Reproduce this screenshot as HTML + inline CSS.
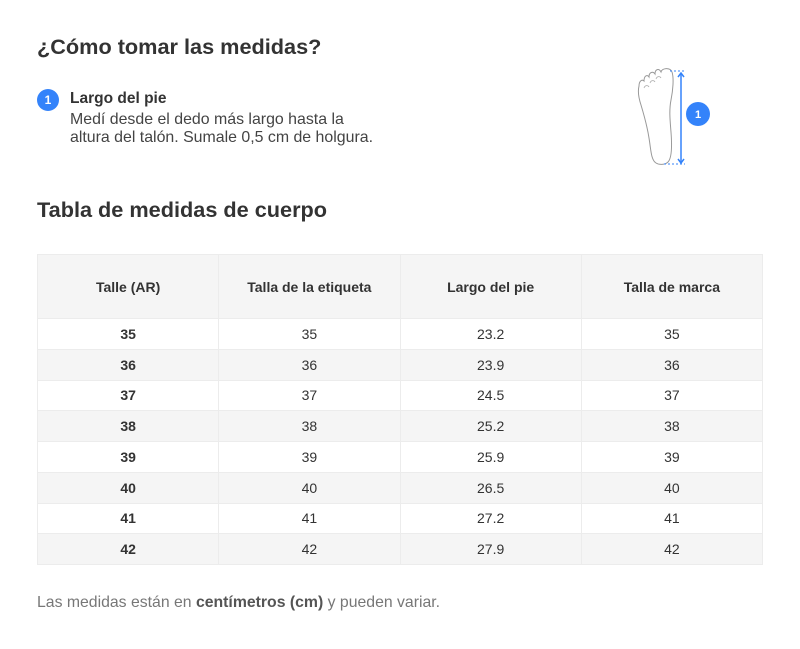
<!DOCTYPE html>
<html><head><meta charset="utf-8"><style>
body{margin:0;width:800px;height:649px;background:#fff;font-family:"Liberation Sans",sans-serif;color:#333;position:relative;overflow:hidden}
.a{position:absolute}
h1{position:absolute;margin:0;left:37px;top:34px;font-size:21.7px;font-weight:bold;color:#333}
h2{position:absolute;margin:0;left:37px;top:197px;font-size:21.7px;font-weight:bold;color:#333}
.badge{position:absolute;width:22px;height:22px;border-radius:50%;background:#3483fa;color:#fff;font-size:12px;font-weight:bold;text-align:center;line-height:22px}
table{position:absolute;left:37px;top:254px;width:726px;border-collapse:collapse;font-size:14px;table-layout:fixed}
td,th{text-align:center;border:1px solid #ececec;padding:0;color:#333}
th{height:63px;background:#f5f5f5;font-weight:bold}
td{height:29.75px}
tr.g td{background:#f5f5f5}
td:first-child{font-weight:bold}
</style></head><body>
<h1>¿Cómo tomar las medidas?</h1>
<div class="badge" style="left:37px;top:89px">1</div>
<div class="a" style="left:70px;top:90px;font-size:15.5px;font-weight:bold">Largo del pie</div>
<div class="a" style="left:70px;top:111px;font-size:15.9px;line-height:18px;color:#444">Medí desde el dedo más largo hasta la<br>altura del talón. Sumale 0,5 cm de holgura.</div>
<svg class="a" style="left:620px;top:60px" width="100" height="110" viewBox="0 0 100 110">
<path d="M36 103 C31 100 31 90 29 78 C27 65 24 55 21 45 C18 36 18 30 19 26 C19 21 22 19 24 21 C24 16 27 14 29 17 C29 12 33 11 35 14 C35 9 39 8 41 12 C42 8 50 7 52 12 C54 18 53 30 51 40 C49 50 50 60 51 72 C52 85 52 98 48 102 C45 105 39 105 36 103Z" fill="none" stroke="#999" stroke-width="1"/>
<path d="M24 28 C25 25 28 25 29 27 M30 23 C31 20 34 20 35 22 M36 19 C37 16 40 16 41 18" fill="none" stroke="#aaa" stroke-width="0.8"/>
<line x1="50" y1="11" x2="65" y2="11" stroke="#3483fa" stroke-dasharray="2 2"/>
<line x1="44" y1="104" x2="65" y2="104" stroke="#3483fa" stroke-dasharray="2 2"/>
<line x1="61" y1="13" x2="61" y2="102" stroke="#3483fa" stroke-width="1.5"/>
<path d="M58 17 L61 13 L64 17 M58 99 L61 103 L64 99" fill="none" stroke="#3483fa" stroke-width="1.5"/>
<circle cx="78" cy="54" r="12" fill="#3483fa"/>
<text x="78" y="58" font-size="11" font-weight="bold" fill="#fff" text-anchor="middle" font-family="Liberation Sans">1</text>
</svg>
<h2>Tabla de medidas de cuerpo</h2>
<table>
<tr><th>Talle (AR)</th><th>Talla de la etiqueta</th><th>Largo del pie</th><th>Talla de marca</th></tr>
<tr><td>35</td><td>35</td><td>23.2</td><td>35</td></tr>
<tr class="g"><td>36</td><td>36</td><td>23.9</td><td>36</td></tr>
<tr><td>37</td><td>37</td><td>24.5</td><td>37</td></tr>
<tr class="g"><td>38</td><td>38</td><td>25.2</td><td>38</td></tr>
<tr><td>39</td><td>39</td><td>25.9</td><td>39</td></tr>
<tr class="g"><td>40</td><td>40</td><td>26.5</td><td>40</td></tr>
<tr><td>41</td><td>41</td><td>27.2</td><td>41</td></tr>
<tr class="g"><td>42</td><td>42</td><td>27.9</td><td>42</td></tr>
</table>
<div class="a" style="left:37px;top:594px;font-size:15.8px;color:#777">Las medidas están en <b style="color:#555">centímetros (cm)</b> y pueden variar.</div>
</body></html>
